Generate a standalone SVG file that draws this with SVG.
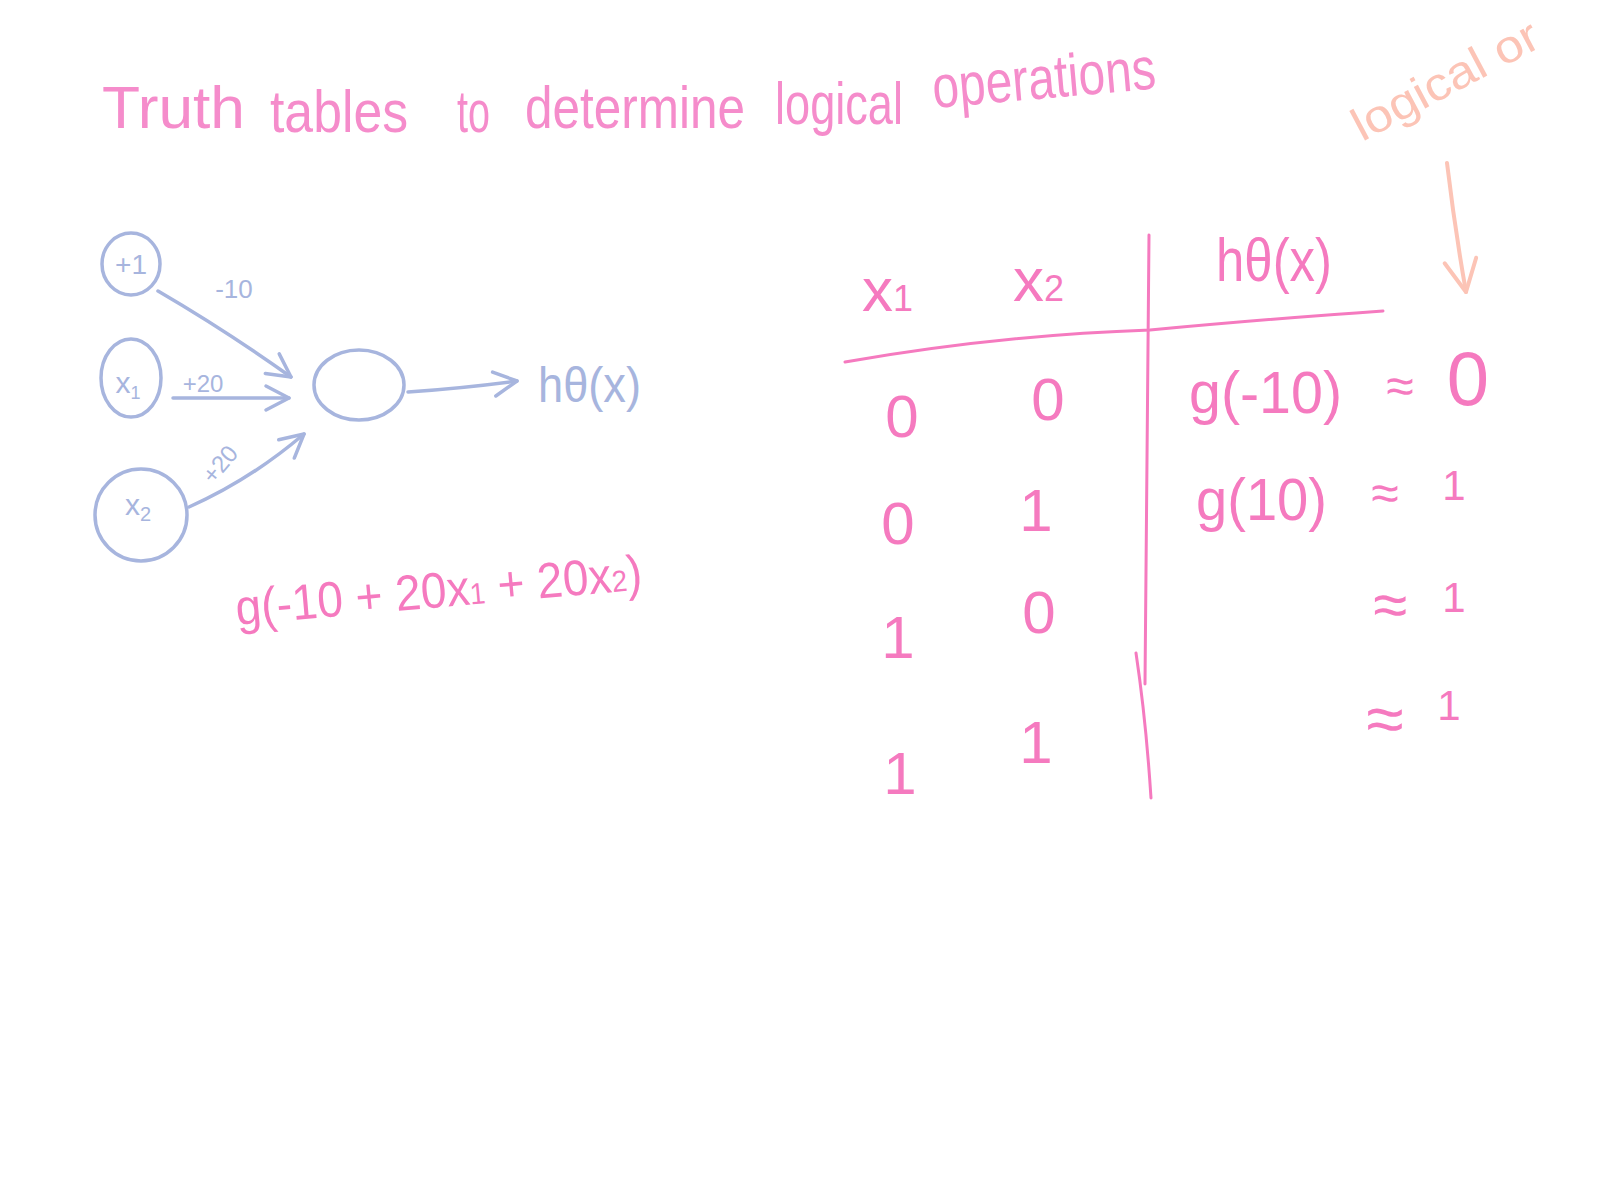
<svg xmlns="http://www.w3.org/2000/svg" width="1600" height="1200" viewBox="0 0 1600 1200">
<defs>
<style>
.bg{fill:#ffffff}
.t{font-family:"Liberation Sans","DejaVu Sans",sans-serif;font-weight:normal}
.title{fill:#f58ccb;font-size:60px}
.pk{fill:#f57abf}
.bl{fill:#a7b5de}
.pc{fill:#fcc4b6}
.bls{fill:none;stroke:#a7b5de;stroke-width:3.5;stroke-linecap:round;stroke-linejoin:round}
.pks{fill:none;stroke:#f57abf;stroke-width:3;stroke-linecap:round;stroke-linejoin:round}
.pcs{fill:none;stroke:#fcc4b6;stroke-width:4;stroke-linecap:round;stroke-linejoin:round}
</style>
<marker id="ahb" viewBox="0 0 30 30" refX="27" refY="15" markerWidth="30" markerHeight="30" markerUnits="userSpaceOnUse" orient="auto">
<path d="M4,3 L27,15 L4,27" fill="none" stroke="#a7b5de" stroke-width="3.5" stroke-linecap="round" stroke-linejoin="round"/>
</marker>
<marker id="ahp" viewBox="0 0 40 40" refX="36" refY="20" markerWidth="40" markerHeight="40" markerUnits="userSpaceOnUse" orient="auto">
<path d="M4,4 L36,20 L4,36" fill="none" stroke="#fcc4b6" stroke-width="4" stroke-linecap="round" stroke-linejoin="round"/>
</marker>
</defs>
<rect class="bg" x="0" y="0" width="1600" height="1200"/>

<g id="title">
<text class="t title" x="102" y="128" textLength="143" lengthAdjust="spacingAndGlyphs">Truth</text>
<text class="t title" x="270" y="132" textLength="138" lengthAdjust="spacingAndGlyphs">tables</text>
<text class="t title" x="457" y="132" textLength="33" lengthAdjust="spacingAndGlyphs">to</text>
<text class="t title" x="525" y="128" textLength="220" lengthAdjust="spacingAndGlyphs">determine</text>
<text class="t title" x="775" y="124" textLength="128" lengthAdjust="spacingAndGlyphs">logical</text>
<text class="t title" x="934" y="108" textLength="224" lengthAdjust="spacingAndGlyphs" transform="rotate(-5 934 108)">operations</text>
</g>

<g id="node-bias">
<ellipse class="bls" cx="131" cy="264" rx="29" ry="31"/>
<text class="t bl" x="131" y="274" font-size="28" text-anchor="middle">+1</text>
</g>
<g id="node-x1">
<ellipse class="bls" cx="131" cy="378" rx="30" ry="39"/>
<text class="t bl" x="128" y="393" font-size="30" text-anchor="middle">x<tspan font-size="18" dy="6">1</tspan></text>
</g>
<g id="node-x2">
<ellipse class="bls" cx="141" cy="515" rx="46" ry="46"/>
<text class="t bl" x="138" y="515" font-size="30" text-anchor="middle">x<tspan font-size="20" dy="6">2</tspan></text>
</g>
<g id="node-hidden">
<ellipse class="bls" cx="359" cy="385" rx="45" ry="35"/>
</g>
<g id="node-output">
<text class="t bl" x="538" y="402" font-size="50" textLength="103" lengthAdjust="spacingAndGlyphs">hθ(x)</text>
</g>

<g id="connectors">
<path class="bls" d="M158,291 Q225,330 291,377" marker-end="url(#ahb)"/>
<path class="bls" d="M173,398 L289,398" marker-end="url(#ahb)"/>
<path class="bls" d="M189,507 Q250,480 304,434" marker-end="url(#ahb)"/>
<path class="bls" d="M408,392 Q465,388 517,381" marker-end="url(#ahb)"/>
<text class="t bl" x="234" y="298" font-size="26" text-anchor="middle">-10</text>
<text class="t bl" x="203" y="392" font-size="24" text-anchor="middle">+20</text>
<text class="t bl" x="221" y="472" font-size="24" text-anchor="middle" transform="rotate(-50 221 465)">+20</text>
<path class="pcs" d="M1447,163 Q1455,230 1466,292" marker-end="url(#ahp)"/>
</g>

<g id="formula">
<text class="t pk" x="237" y="625" font-size="50" textLength="408" lengthAdjust="spacingAndGlyphs" transform="rotate(-5 237 625)">g(-10 + 20x<tspan font-size="30">1</tspan> + 20x<tspan font-size="30">2</tspan>)</text>
</g>

<g id="note">
<text class="t pc" x="1362" y="142" font-size="46" textLength="205" lengthAdjust="spacingAndGlyphs" transform="rotate(-28 1362 142)">logical or</text>
</g>

<g id="table">
<path class="pks" d="M845,362 Q1000,335 1150,330 Q1280,318 1383,311"/>
<path class="pks" d="M1149,235 Q1147,450 1145,684"/>
<path class="pks" d="M1136,653 Q1146,720 1151,798"/>
<text class="t pk" x="862" y="311" font-size="62">x<tspan font-size="36">1</tspan></text>
<text class="t pk" x="1013" y="301" font-size="62">x<tspan font-size="36">2</tspan></text>
<text class="t pk" x="1216" y="281" font-size="62" textLength="116" lengthAdjust="spacingAndGlyphs">hθ(x)</text>

<text class="t pk" x="902" y="437" font-size="60" text-anchor="middle">0</text>
<text class="t pk" x="1048" y="420" font-size="60" text-anchor="middle">0</text>
<text class="t pk" x="898" y="544" font-size="60" text-anchor="middle">0</text>
<text class="t pk" x="1036" y="531" font-size="60" text-anchor="middle">1</text>
<text class="t pk" x="898" y="658" font-size="60" text-anchor="middle">1</text>
<text class="t pk" x="1039" y="633" font-size="60" text-anchor="middle">0</text>
<text class="t pk" x="900" y="794" font-size="60" text-anchor="middle">1</text>
<text class="t pk" x="1036" y="763" font-size="60" text-anchor="middle">1</text>

<text class="t pk" x="1189" y="413" font-size="60" textLength="153" lengthAdjust="spacingAndGlyphs">g(-10)</text>
<text class="t pk" x="1400" y="403" font-size="50" text-anchor="middle">≈</text>
<text class="t pk" x="1468" y="405" font-size="76" text-anchor="middle">0</text>

<text class="t pk" x="1196" y="520" font-size="60" textLength="131" lengthAdjust="spacingAndGlyphs">g(10)</text>
<text class="t pk" x="1385" y="510" font-size="50" text-anchor="middle">≈</text>
<text class="t pk" x="1454" y="500" font-size="42" text-anchor="middle">1</text>

<text class="t pk" x="1390" y="626" font-size="62" text-anchor="middle">≈</text>
<text class="t pk" x="1454" y="612" font-size="42" text-anchor="middle">1</text>

<text class="t pk" x="1385" y="742" font-size="68" text-anchor="middle">≈</text>
<text class="t pk" x="1449" y="720" font-size="42" text-anchor="middle">1</text>
</g>
</svg>
